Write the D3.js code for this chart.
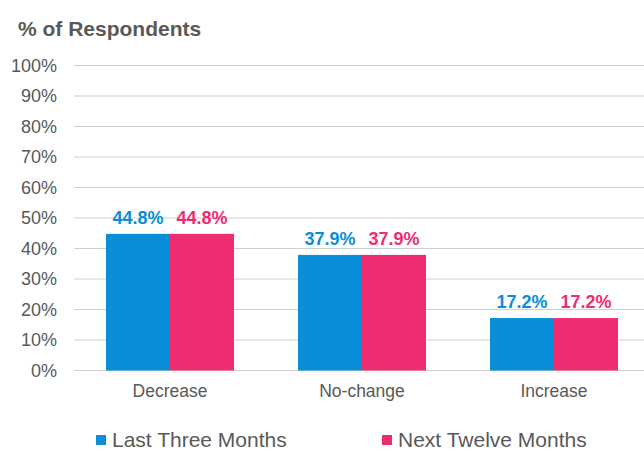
<!DOCTYPE html>
<html>
<head>
<meta charset="utf-8">
<script src="https://cdn.jsdelivr.net/npm/d3@7"></script>
<style>
	body { margin: 0; background: #fff; }
	text { font-family: "Liberation Sans", Arial, sans-serif; }
</style>
</head>
<body>
<script>
const categories = [`Decrease`, `No-change`, `Increase`];
const seriesNames = [`Last Three Months`, `Next Twelve Months`];
const lastThree = [44.8, 37.9, 17.2];
const nextTwelve = [44.8, 37.9, 17.2];
const yTicks = [0, 10, 20, 30, 40, 50, 60, 70, 80, 90, 100];
const colors = [`#0A8ED8`, `#EF2C72`];

const width = 644, height = 450;
const margin = { left: 74, right: -6, top: 65.5, bottom: 79.5 };

const data = categories.map((c, i) => ({
	cat: c,
	vals: [lastThree[i], nextTwelve[i]]
}));

const svg = d3
	.select('body')
	.append('svg')
	.attr('width', width)
	.attr('height', height);

const x0 = d3.scaleBand()
	.domain(categories)
	.range([margin.left, width - margin.right]);

const bw = x0.bandwidth();
const x1 = d3.scaleBand()
	.domain([0, 1])
	.range([bw / 6, bw * 5 / 6]);

const y = d3.scaleLinear()
	.domain([0, 100])
	.range([height - margin.bottom, margin.top]);

// gridlines
svg.append('g')
	.selectAll('line')
	.data(yTicks)
	.enter()
	.append('line')
	.attr('x1', margin.left)
	.attr('x2', width)
	.attr('y1', d => y(d))
	.attr('y2', d => y(d))
	.attr('stroke', '#cfcfcf')
	.attr('stroke-width', 1);

// y labels
svg.append('g')
	.selectAll('text')
	.data(yTicks)
	.enter()
	.append('text')
	.attr('x', 57)
	.attr('y', d => y(d) + 6)
	.attr('text-anchor', 'end')
	.attr('font-size', '18px')
	.attr('fill', '#595959')
	.text(d => `${d}%`);

// title
svg.append('text')
	.attr('x', 18)
	.attr('y', 36)
	.attr('font-size', '21px')
	.attr('font-weight', 'bold')
	.attr('fill', '#595959')
	.text('% of Respondents');

const groups = svg.selectAll('g.grp')
	.data(data)
	.enter()
	.append('g')
	.attr('class', 'grp')
	.attr('transform', d => `translate(${x0(d.cat)},0)`);

groups.selectAll('rect')
	.data(d => d.vals.map((v, i) => ({ v, i })))
	.enter()
	.append('rect')
	.attr('x', d => x1(d.i))
	.attr('width', x1.bandwidth())
	.attr('y', d => y(d.v))
	.attr('height', d => y(0) - y(d.v))
	.attr('fill', d => colors[d.i]);

groups.selectAll('text.val')
	.data(d => d.vals.map((v, i) => ({ v, i })))
	.enter()
	.append('text')
	.attr('class', 'val')
	.attr('x', d => x1(d.i) + x1.bandwidth() / 2)
	.attr('y', d => y(d.v) - 10)
	.attr('text-anchor', 'middle')
	.attr('font-size', '18px')
	.attr('font-weight', 'bold')
	.attr('fill', d => colors[d.i])
	.text(d => `${d.v.toFixed(1)}%`);

// category labels
svg.append('g')
	.selectAll('text')
	.data(categories)
	.enter()
	.append('text')
	.attr('x', d => x0(d) + bw / 2)
	.attr('y', 397)
	.attr('text-anchor', 'middle')
	.attr('font-size', '17.5px')
	.attr('fill', '#595959')
	.text(d => d);

// legend
const legendX = [96, 382];
const legend = svg.append('g')
	.selectAll('g')
	.data(seriesNames)
	.enter()
	.append('g')
	.attr('transform', (d, i) => `translate(${legendX[i]},0)`);

legend.append('rect')
	.attr('x', 0)
	.attr('y', 435)
	.attr('width', 10)
	.attr('height', 10)
	.attr('fill', (d, i) => colors[i]);

legend.append('text')
	.attr('x', 16)
	.attr('y', 447)
	.attr('font-size', '21px')
	.attr('fill', '#595959')
	.text(d => d);
</script>
</body>
</html>
